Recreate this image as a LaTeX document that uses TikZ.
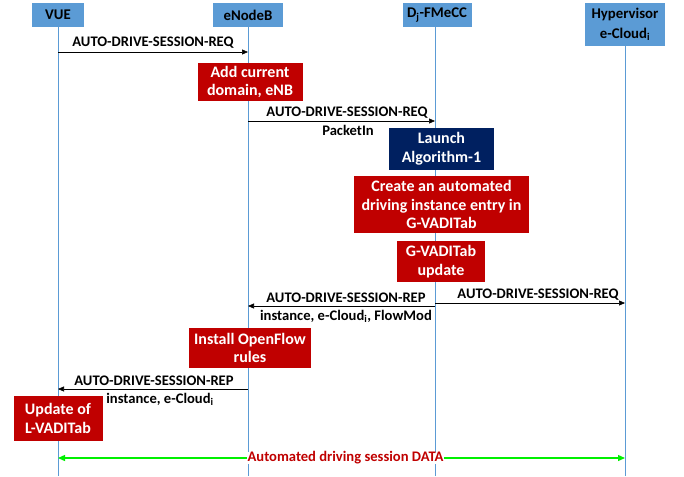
\documentclass[tikz,border=0pt]{standalone}
\usepackage{fontspec}
\setmainfont{Carlito}
\usetikzlibrary{arrows.meta}
\definecolor{hdrc}{HTML}{5B9BD5}
\definecolor{dred}{HTML}{C00000}
\definecolor{navyc}{HTML}{002060}
\definecolor{llc}{HTML}{5B9BD5}
\definecolor{grn}{HTML}{00F000}
\begin{document}
\begin{tikzpicture}[x=1pt,y=-1pt,
 hdr/.style={fill=hdrc, inner sep=0pt, align=center, font=\fontsize{14.8}{20}\selectfont\bfseries},
 act/.style={fill=dred, text=white, inner sep=0pt, align=center, font=\fontsize{16}{18.7}\selectfont\bfseries},
 msg/.style={-{Triangle[length=6pt,width=5pt]}, line width=0.6pt},
 lab/.style={font=\fontsize{14.6}{17}\selectfont\bfseries, inner sep=0pt},
 life/.style={draw=llc, line width=0.7pt}]
\useasboundingbox (0,0) rectangle (684,476);
% lifelines
\coordinate (l1) at (58,476);
\coordinate (l2) at (248,476);
\coordinate (l3) at (435,476);
\coordinate (l4) at (625,476);
\node[hdr, minimum width=52pt, minimum height=24pt] (vue) at (58,15) {VUE};
\node[hdr, minimum width=70pt, minimum height=24pt] (enb) at (248,15) {eNodeB};
\node[hdr, minimum width=69pt, minimum height=24pt] (fmecc) at (437,15) {D\textsubscript{j}-FMeCC};
\node[hdr, minimum width=80pt, minimum height=43pt] (hyp) at (625,24.5) {Hypervisor\\e-Cloud\textsubscript{i}};
\draw[life] (vue.south) -- (l1);
\draw[life] (enb.south) -- (l2);
\draw[life] (435,27) -- (l3);
\draw[life] (hyp.south) -- (l4);
% message 1
\coordinate (m1a) at (58,52);
\coordinate (m1b) at (248,52);
\draw[msg] (m1a) -- (m1b);
\node[lab] (t1) at (153,43) {AUTO-DRIVE-SESSION-REQ};
\node[act, minimum width=105pt, minimum height=38pt] (add) at (250,82) {Add current\\domain, eNB};
% message 2
\coordinate (m2a) at (248,121);
\coordinate (m2b) at (435,121);
\draw[msg] (m2a) -- (m2b);
\node[lab] (t2) at (347,113) {AUTO-DRIVE-SESSION-REQ};
\node[lab] (t2b) at (348,130) {PacketIn};
\node[act, fill=navyc, minimum width=105pt, minimum height=42pt] (launch) at (441.5,149) {Launch\\Algorithm-1};
\node[act, minimum width=175pt, minimum height=57pt] (create) at (441.5,204.5) {Create an automated\\driving instance entry in\\G-VADITab};
\node[act, minimum width=88pt, minimum height=41pt] (upd) at (441,261.5) {G-VADITab\\update};
% message 3 (reply)
\coordinate (m3a) at (435,306);
\coordinate (m3b) at (248,306);
\draw[msg] (m3a) -- (m3b);
\node[lab] (t3) at (346,298) {AUTO-DRIVE-SESSION-REP};
\node[lab] (t3b) at (346,316) {instance, e-Cloud\textsubscript{i}, FlowMod};
% message 4
\coordinate (m4a) at (435,303);
\coordinate (m4b) at (625,303);
\draw[msg] (m4a) -- (m4b);
\node[lab] (t4) at (538,295) {AUTO-DRIVE-SESSION-REQ};
\node[act, minimum width=122pt, minimum height=40pt] (inst) at (250,348) {Install OpenFlow\\rules};
% message 5
\coordinate (m5a) at (248,389);
\coordinate (m5b) at (58,389);
\draw[msg] (m5a) -- (m5b);
\node[lab] (t5) at (154,381) {AUTO-DRIVE-SESSION-REP};
\node[lab] (t5b) at (160,399) {instance, e-Cloud\textsubscript{i}};
\node[act, minimum width=89pt, minimum height=45pt] (lvad) at (58,418.5) {Update of\\L-VADITab};
% data
\coordinate (d1) at (58,458);
\coordinate (d2) at (625,458);
\draw[draw=grn, line width=1.3pt, {Triangle[length=7pt,width=6pt]}-{Triangle[length=7pt,width=6pt]}] (d1) -- (d2);
\node[lab, text=dred, fill=white, inner xsep=1pt] (data) at (345.5,458) {Automated driving session DATA};
\end{tikzpicture}
\end{document}
